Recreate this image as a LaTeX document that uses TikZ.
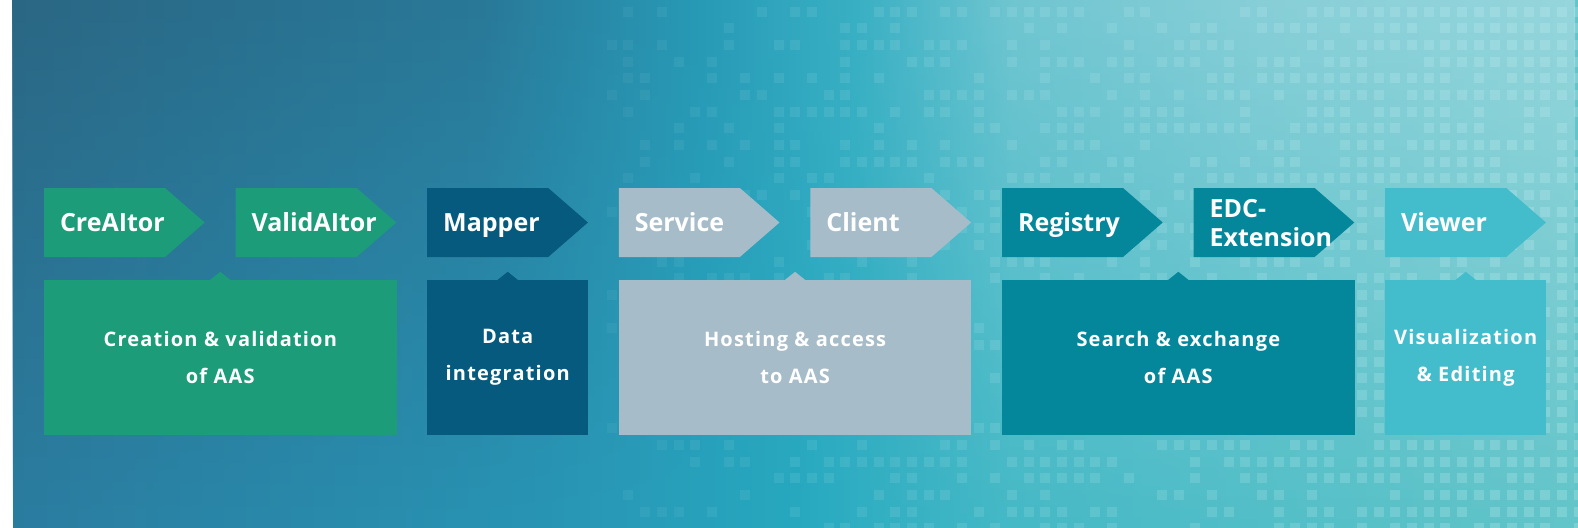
\documentclass[tikz,border=0pt]{standalone}
\usepackage{fontspec}
\setmainfont{Open Sans}
\newfontfamily\spacedfont[LetterSpace=6]{Open Sans}
\usetikzlibrary{shapes.symbols,fadings}

\definecolor{creategreen}{HTML}{1D9C7A}
\definecolor{mapperblue}{HTML}{055A7D}
\definecolor{hostgray}{HTML}{A7BCC9}
\definecolor{searchteal}{HTML}{04879B}
\definecolor{viewcyan}{HTML}{43BCCB}
\definecolor{pixel}{HTML}{C0EEF2}

\definecolor{bgA}{HTML}{2A7DA0}
\definecolor{bgB}{HTML}{2895B5}
\definecolor{bgC}{HTML}{27A9C0}
\definecolor{bgD}{HTML}{45B9C6}
\definecolor{bgE}{HTML}{62C5C9}
\definecolor{topA}{HTML}{2A6784}
\definecolor{topB}{HTML}{2A7898}
\definecolor{topC}{HTML}{289AB6}
\definecolor{topD}{HTML}{3AB0C4}
\definecolor{topE}{HTML}{70C6D1}
\definecolor{topF}{HTML}{88CFD8}
\definecolor{topG}{HTML}{96D6DC}

\pgfdeclarehorizontalshading{bgbottom}{100bp}{color(0bp)=(bgA); color(25bp)=(bgA);
  color(42bp)=(bgB); color(50bp)=(bgC); color(57bp)=(bgD); color(75bp)=(bgE); color(100bp)=(bgE)}
\pgfdeclarehorizontalshading{bgtop}{100bp}{color(0bp)=(topA); color(25bp)=(topA);
  color(40bp)=(topB); color(47bp)=(topC); color(52bp)=(topD); color(57bp)=(topE);
  color(65bp)=(topF); color(75bp)=(topG); color(100bp)=(topG)}

\begin{document}
\begin{tikzpicture}[x=1pt,y=-1pt,
    tool/.style ={signal, signal to=east, signal pointer angle=82, minimum height=69pt,
      inner xsep=16pt, inner ysep=0pt, text width=89pt, align=left, text=white,
      text height=18pt, text depth=0pt, font=\bfseries\fontsize{25}{29}\selectfont},
    task/.style ={rectangle, minimum height=155pt, inner sep=0pt, align=center, text=white,
      font=\spacedfont\bfseries\fontsize{20}{37}\selectfont}]
   % background
   \useasboundingbox (0,0) rectangle (1578,527);
   \fill[white] (0,0) rectangle (1578,527);
   \shade[shading=bgbottom] (13,0) rectangle (1578,527);
   \shade[shading=bgtop, path fading=south] (13,0) rectangle (1578,527);
   \begin{scope}
   \clip (13,0) rectangle (1578,527);
   \pgfmathsetseed{42}
   \foreach \i in {36,...,94} {
     \foreach \j in {0,...,31} {
       \pgfmathsetmacro{\px}{6.7+16.67*\i}
       \pgfmathsetmacro{\py}{6.7+16.67*\j}
       \pgfmathsetmacro{\keep}{rnd < (0.2+0.7*(\i-36)/58) ? 1 : 0}
       \pgfmathsetmacro{\op}{0.06+0.22*(\i-36)/58}
       \ifdim\keep pt>0.5pt
         \fill[pixel, opacity=\op] (\px,\py) rectangle ++(10,10);
       \fi
     }
   }
   \end{scope}

   % tools
   \node[tool, fill=creategreen] (creaitor) at (104.5,222.5) {CreAItor};
   \node[tool, fill=creategreen] (validaitor) at (296.1,222.5) {ValidAItor};
   \node[tool, fill=mapperblue] (mapper) at (487.7,222.5) {Mapper};
   \node[tool, fill=hostgray] (service) at (679.3,222.5) {Service};
   \node[tool, fill=hostgray] (client) at (870.9,222.5) {Client};
   \node[tool, fill=searchteal] (registry) at (1062.5,222.5) {Registry};
   \node[tool, fill=searchteal, text depth=29pt] (edc) at (1254.1,222.5) {EDC-\\Extension};
   \node[tool, fill=viewcyan] (viewer) at (1445.7,222.5) {Viewer};

   % tasks
   \node[task, fill=creategreen, minimum width=352.6pt] (creation) at (220.3,357.5)
     {Creation \& validation\\of AAS};
   \node[task, fill=mapperblue, minimum width=161pt] (integration) at (507.7,357.5)
     {Data\\integration};
   \node[task, fill=hostgray, minimum width=352.6pt] (hosting) at (795.1,357.5)
     {Hosting \& access\\to AAS};
   \node[task, fill=searchteal, minimum width=352.6pt] (search) at (1178.3,357.5)
     {Search \& exchange\\of AAS};
   \node[task, fill=viewcyan, minimum width=161pt] (visual) at (1465.7,357.5)
     {Visualization\\\& Editing};

   % notches
   \foreach \n/\c in {creation/creategreen, integration/mapperblue, hosting/hostgray,
       search/searchteal, visual/viewcyan}
     \fill[\c] ([xshift=-10pt]\n.north) -- ([yshift=8pt]\n.north) -- ([xshift=10pt]\n.north) -- cycle;
 \end{tikzpicture}
\end{document}
